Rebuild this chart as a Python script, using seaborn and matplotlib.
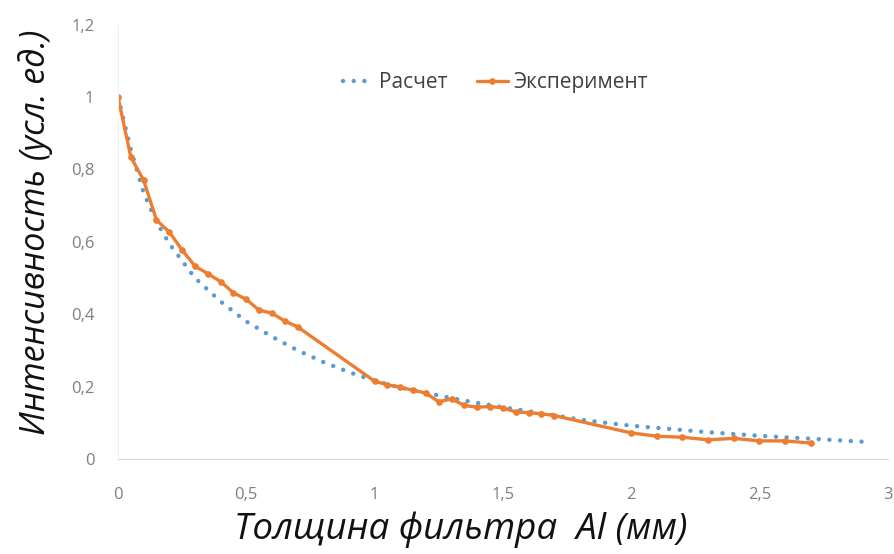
import matplotlib
matplotlib.use('Agg')
import matplotlib.pyplot as plt
import seaborn as sns

# Расчет (calculated curve)
calc_x = [0, 0.05, 0.1, 0.15, 0.2, 0.3, 0.4, 0.5, 0.6, 0.7, 0.8, 0.9, 1.0,
	1.1, 1.2, 1.3, 1.4, 1.5, 1.6, 1.7, 1.8, 1.9, 2.0, 2.1, 2.2, 2.3, 2.4,
	2.5, 2.6, 2.7, 2.8, 2.92]
calc_y = [1.0, 0.855, 0.735, 0.655, 0.595, 0.5, 0.435, 0.38, 0.338, 0.3,
	0.268, 0.24, 0.216, 0.197, 0.183, 0.168, 0.155, 0.143, 0.132, 0.121,
	0.109, 0.1, 0.092, 0.086, 0.08, 0.074, 0.069, 0.064, 0.06, 0.056,
	0.052, 0.047]

# Эксперимент (measured)
exp_x = [0, 0.05, 0.1, 0.15, 0.2, 0.25, 0.3, 0.35, 0.4, 0.45, 0.5, 0.55,
	0.6, 0.65, 0.7,
	1.0, 1.05, 1.1, 1.15, 1.2, 1.25, 1.3, 1.35, 1.4, 1.45, 1.5, 1.55, 1.6,
	1.65, 1.7,
	2.0, 2.1, 2.2, 2.3, 2.4, 2.5, 2.6, 2.7]
exp_y = [1.0, 0.834, 0.77, 0.66, 0.627, 0.577, 0.533, 0.512, 0.49, 0.459,
	0.441, 0.411, 0.403, 0.381, 0.365,
	0.215, 0.205, 0.198, 0.19, 0.182, 0.158, 0.166, 0.148, 0.143, 0.145,
	0.141, 0.13, 0.128, 0.125, 0.12,
	0.072, 0.063, 0.06, 0.053, 0.057, 0.05, 0.05, 0.044]

x_ticks = [0, 0.5, 1, 1.5, 2, 2.5, 3]
x_labels = ['0', '0,5', '1', '1,5', '2', '2,5', '3']
y_ticks = [0, 0.2, 0.4, 0.6, 0.8, 1.0, 1.2]
y_labels = ['0', '0,2', '0,4', '0,6', '0,8', '1', '1,2']

BLUE = '#5B9BD5'
ORANGE = '#ED7D31'


def draw_chart():
	sns.set_style('white')
	plt.rcParams['font.family'] = ['Open Sans', 'DejaVu Sans']

	fig = plt.figure(figsize=(8.94, 5.54), dpi=100)
	ax = fig.add_axes([0.132, 0.1715, 0.861, 0.784])

	sns.lineplot(x=calc_x, y=calc_y, ax=ax, color=BLUE, lw=3.2,
		linestyle=(0, (0.01, 2.4)), dash_capstyle='round', label='Расчет')
	sns.lineplot(x=exp_x, y=exp_y, ax=ax, color=ORANGE, lw=2.4,
		marker='o', markersize=4.8, markeredgewidth=0, label='Эксперимент')

	ax.set_xlim(0, 3)
	ax.set_ylim(0, 1.2)
	ax.set_xticks(x_ticks)
	ax.set_xticklabels(x_labels)
	ax.set_yticks(y_ticks)
	ax.set_yticklabels(y_labels)
	ax.tick_params(axis='both', length=0, labelsize=12, labelcolor='#7f7f7f')
	ax.tick_params(axis='x', pad=20)
	ax.tick_params(axis='y', pad=17)

	for name, spine in ax.spines.items():
		spine.set_visible(name in ('left', 'bottom'))
	ax.spines['bottom'].set_color('#d9d9d9')
	ax.spines['left'].set_color('#f0f0f0')

	ax.set_xlabel('Толщина фильтра  Al (мм)', fontsize=26.5, style='italic',
		color='#111111')
	ax.xaxis.set_label_coords(0.445, -0.122)
	ax.set_ylabel('Интенсивность (усл. ед.)', fontsize=24.5, style='italic',
		color='#111111')
	ax.yaxis.set_label_coords(-0.085, 0.522)

	leg = ax.legend(loc='center', bbox_to_anchor=(0.49, 0.866), ncol=2,
		frameon=False, fontsize=15, handlelength=1.5, columnspacing=1.4,
		handletextpad=0.25)
	for text in leg.get_texts():
		text.set_color('#404040')

	fig.savefig('out.png', dpi=100)


if __name__ == '__main__':
	draw_chart()
